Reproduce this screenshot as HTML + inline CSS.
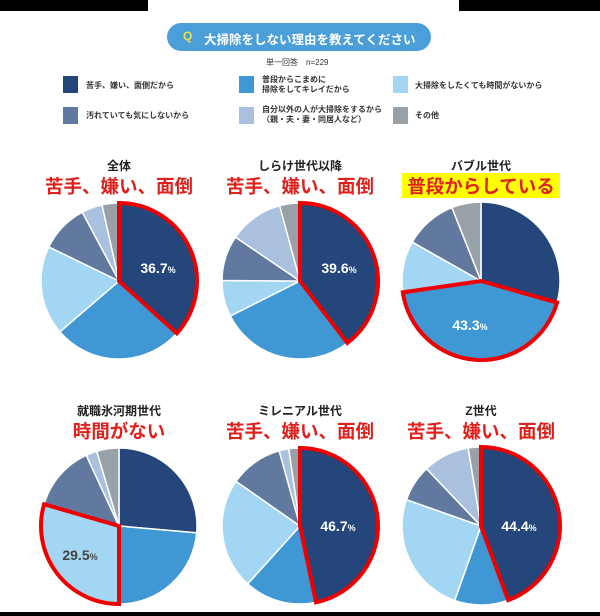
<!DOCTYPE html><html><head><meta charset="utf-8"><style>
body{margin:0;width:600px;height:616px;background:#fff;position:relative;overflow:hidden;font-family:"Liberation Sans","Noto Sans CJK JP",sans-serif}
.a{position:absolute}
.sw{position:absolute;width:15px;height:17px}
.lt{position:absolute;font-size:8px;font-weight:bold;color:#333;line-height:10px}
</style></head><body>
<div class="a" style="left:0;top:0;width:148px;height:11px;background:#000"></div>
<div class="a" style="left:459px;top:0;width:141px;height:11px;background:#000"></div>
<div class="a" style="left:0;top:612px;width:600px;height:4px;background:#000"></div>
<div class="a" style="left:167px;top:23px;width:264px;height:28px;border-radius:14px;background:#4a9fd8"></div>
<div class="a" style="left:183px;top:29px;font-size:12px;font-weight:bold;color:#e6e04a">Q</div>
<div class="a" style="left:204px;top:29px;font-size:12.5px;color:#fff;font-weight:bold">大掃除をしない理由を教えてください</div>
<div class="a" style="left:266px;top:57px;font-size:8px;color:#333">単一回答　n=229</div>
<div class="sw" style="left:63px;top:76px;background:#24467a"></div><div class="lt" style="left:86px;top:81px">苦手、嫌い、面倒だから</div>
<div class="sw" style="left:239px;top:76px;background:#3f97d3"></div><div class="lt" style="left:262px;top:75px">普段からこまめに<br>掃除をしてキレイだから</div>
<div class="sw" style="left:393px;top:76px;background:#a3d6f3"></div><div class="lt" style="left:415px;top:81px">大掃除をしたくても時間がないから</div>
<div class="sw" style="left:63px;top:107px;background:#62799f"></div><div class="lt" style="left:86px;top:111px">汚れていても気にしないから</div>
<div class="sw" style="left:239px;top:107px;background:#a9c0df"></div><div class="lt" style="left:262px;top:105px">自分以外の人が大掃除をするから<br>（親・夫・妻・同居人など）</div>
<div class="sw" style="left:393px;top:107px;background:#98a0a8"></div><div class="lt" style="left:415px;top:111px">その他</div>
<svg id="s" class="a" style="left:0;top:0" width="600" height="616"></svg>
<script>
var C=["#24467a","#3f97d3","#a3d6f3","#62799f","#a9c0df","#98a0a8"];
var P=[
{cx:119,cy:281,r:78,d:[36.7,27,18.5,10,4.3,3.5],h:0,t:"全体",big:"苦手、嫌い、面倒",lab:"36.7",lx:158,ly:268,ty:150},
{cx:300,cy:281,r:78,d:[39.6,28,7.5,9.4,11.3,4.2],h:0,t:"しらけ世代以降",big:"苦手、嫌い、面倒",lab:"39.6",lx:339,ly:268,ty:150},
{cx:481,cy:281,r:79,d:[29.4,43.3,10.5,10.8,0,6],h:1,t:"バブル世代",big:"普段からしている",lab:"43.3",lx:470,ly:325,ty:150,y:1},
{cx:119,cy:526,r:78,d:[26.4,23.6,29.5,13.6,2.3,4.6],h:2,t:"就職氷河期世代",big:"時間がない",lab:"29.5",lx:80,ly:555,ty:395,dk:1},
{cx:300,cy:526,r:78,d:[46.7,15,23,11,2,2.3],h:0,t:"ミレニアル世代",big:"苦手、嫌い、面倒",lab:"46.7",lx:338,ly:526,ty:395},
{cx:481,cy:526,r:79,d:[44.4,11,25,7.5,9.5,2.6],h:0,t:"Z世代",big:"苦手、嫌い、面倒",lab:"44.4",lx:519,ly:526,ty:395}];
var o="";
function pt(cx,cy,r,a){a=a*Math.PI/180*3.6;return [cx+r*Math.sin(a),cy-r*Math.cos(a)];}
function arc(p,a0,a1){var s=pt(p.cx,p.cy,p.r,a0),e=pt(p.cx,p.cy,p.r,a1);return "M"+p.cx+","+p.cy+"L"+s[0]+","+s[1]+"A"+p.r+","+p.r+" 0 "+((a1-a0)>50?1:0)+" 1 "+e[0]+","+e[1]+"Z";}
P.forEach(function(p){var a=0,hp="";p.d.forEach(function(v,i){if(v>0){var pa=arc(p,a,a+v);o+='<path d="'+pa+'" fill="'+C[i]+'" stroke="#fff" stroke-width="1.5"/>';if(i==p.h)hp=pa;}a+=v;});
o+='<path d="'+hp+'" fill="none" stroke="#e00" stroke-width="4" stroke-linejoin="miter"/>';
o+='<text x="'+p.lx+'" y="'+(p.ly+5)+'" text-anchor="middle" font-size="14" font-weight="bold" fill="'+(p.dk?"#444":"#fff")+'">'+p.lab+'<tspan font-size="9">%</tspan></text>';
o+='<text x="'+p.cx+'" y="'+(p.ty+20)+'" text-anchor="middle" font-size="12" font-weight="bold" fill="#222">'+p.t+'</text>';
if(p.y)o+='<rect x="402" y="173" width="158" height="25" fill="#ffff00"/>';
o+='<text x="'+p.cx+'" y="'+(p.ty+43)+'" text-anchor="middle" font-size="18.5" font-weight="bold" fill="#e0201c">'+p.big+'</text>';});
document.getElementById("s").innerHTML=o;
</script></body></html>
